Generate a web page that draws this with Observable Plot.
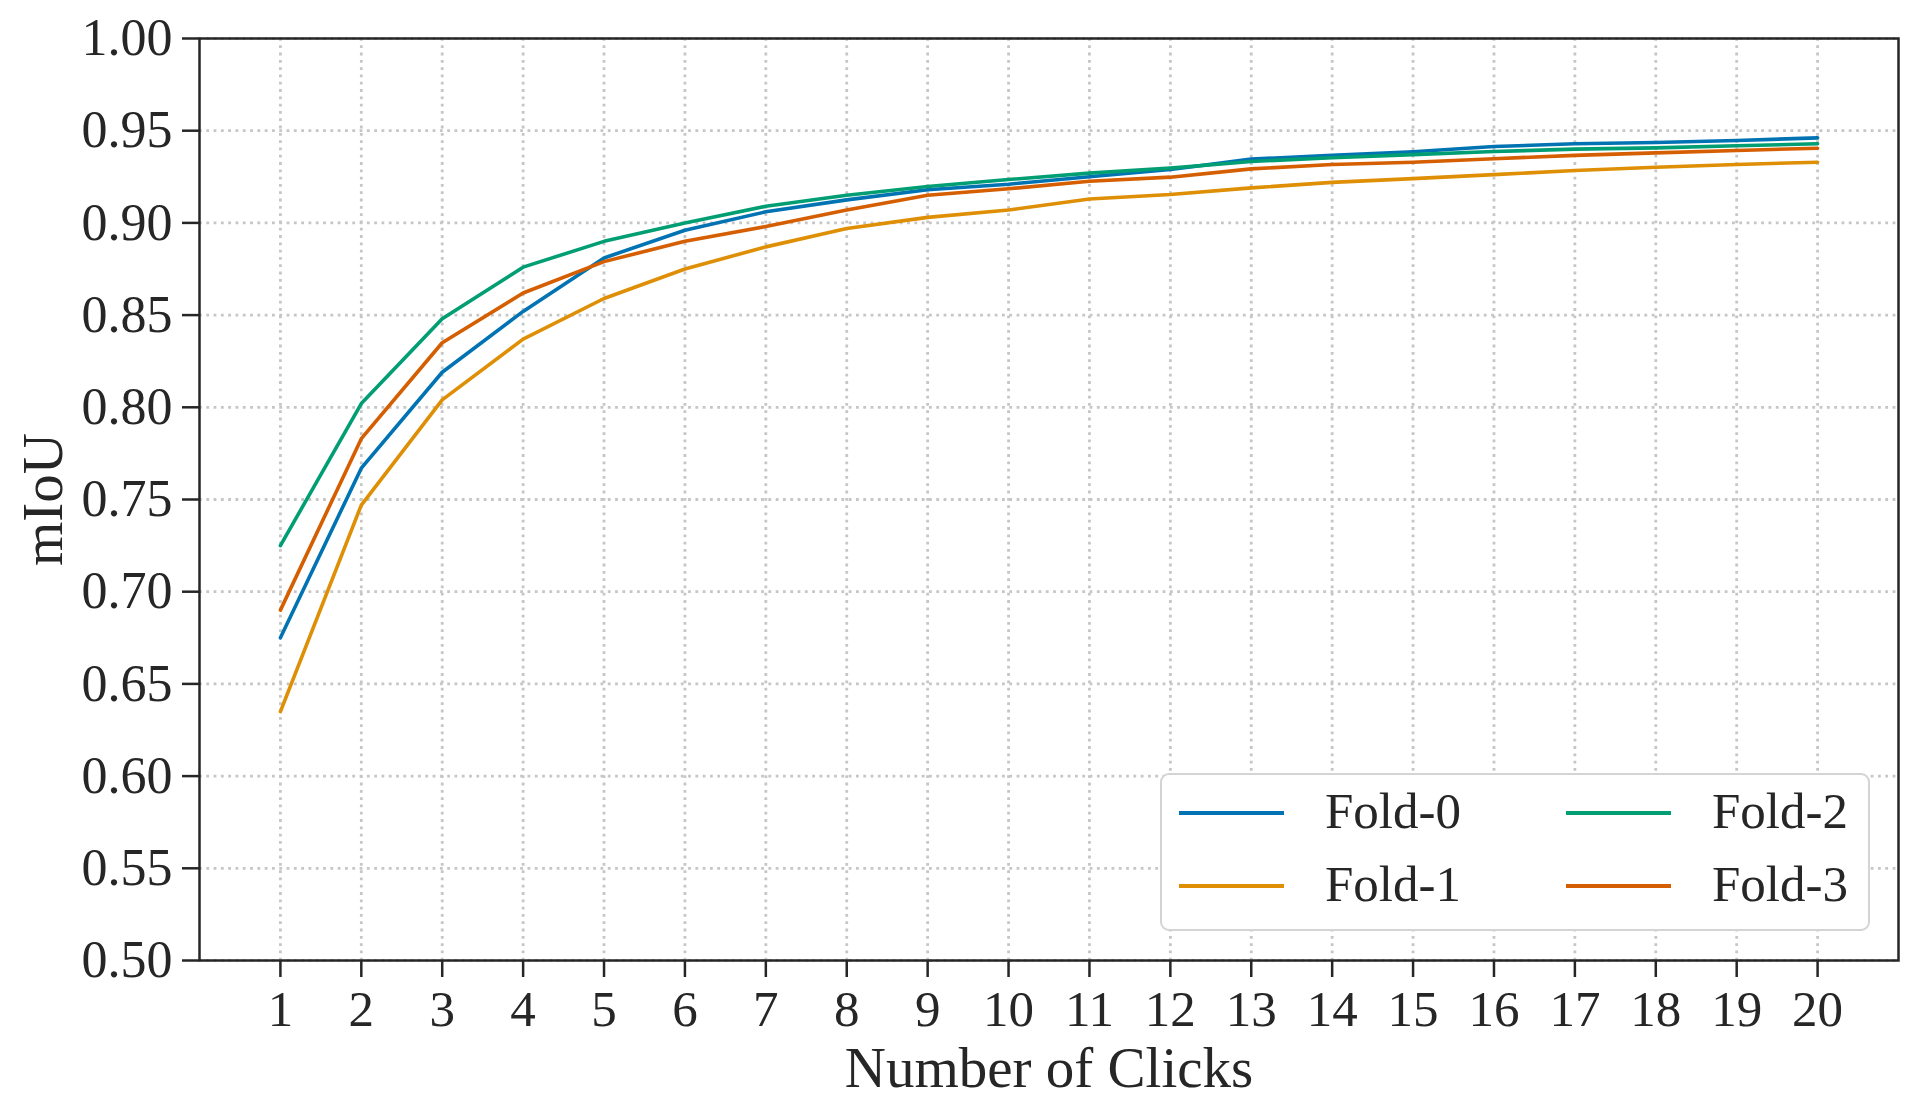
<!DOCTYPE html>
<html>
<head>
<meta charset="utf-8">
<script src="https://cdn.jsdelivr.net/npm/d3@7"></script>
<script src="https://cdn.jsdelivr.net/npm/@observablehq/plot@0.6"></script>
<style>
  body { margin: 0; background: #fff; }
  #wrap { position: relative; width: 1918px; height: 1116px; }
  #legend { position: absolute; left: 1160px; top: 773px; width: 710px; height: 158px;
    border: 2px solid #d4d4d4; border-radius: 9px; background: #fff; box-sizing: border-box;
    font-family: "Liberation Serif", "Times New Roman", serif; font-size: 51px; color: #262626; }
  .sw { position: absolute; height: 3.5px; width: 105px; }
  .lab { position: absolute; line-height: 1; white-space: nowrap; }
</style>
</head>
<body>
<div id="wrap"><div id="legend"></div></div>
<script>
const clicks = [1, 2, 3, 4, 5, 6, 7, 8, 9, 10, 11, 12, 13, 14, 15, 16, 17, 18, 19, 20];
const folds = ["Fold-0", "Fold-1", "Fold-2", "Fold-3"];
const colors = ["#0173B2", "#DE8F05", "#029E73", "#D55E00"];
const fold0 = [0.675, 0.767, 0.819, 0.852, 0.881, 0.896, 0.906, 0.9125, 0.918, 0.921, 0.925, 0.929, 0.9346, 0.9366, 0.9386, 0.9414, 0.9429, 0.9436, 0.9447, 0.9461];
const fold1 = [0.635, 0.747, 0.804, 0.837, 0.859, 0.875, 0.887, 0.897, 0.903, 0.907, 0.913, 0.9154, 0.919, 0.922, 0.924, 0.9262, 0.9284, 0.9302, 0.9317, 0.9329];
const fold2 = [0.725, 0.802, 0.848, 0.876, 0.890, 0.900, 0.909, 0.915, 0.9197, 0.9235, 0.927, 0.9297, 0.9333, 0.9353, 0.937, 0.9387, 0.940, 0.9407, 0.9418, 0.9429];
const fold3 = [0.690, 0.783, 0.835, 0.862, 0.879, 0.890, 0.898, 0.907, 0.915, 0.9185, 0.9226, 0.9248, 0.9293, 0.9317, 0.9329, 0.9348, 0.9366, 0.938, 0.9393, 0.9405];
const yTicks = [0.50, 0.55, 0.60, 0.65, 0.70, 0.75, 0.80, 0.85, 0.90, 0.95, 1.00];
const xLabel = "Number of Clicks";
const yLabel = "mIoU";

const series = [fold0, fold1, fold2, fold3];
const data = [];
series.forEach((vals, i) => vals.forEach((v, j) => data.push({fold: folds[i], click: clicks[j], miou: v})));

const font = '"Liberation Serif", "Times New Roman", serif';
const ink = "#262626";
const gridStyle = {stroke: "#c6c6c6", strokeOpacity: 1, strokeWidth: 2.8, strokeDasharray: "2.8,4.5"};

const chart = Plot.plot({
  width: 1918,
  height: 1116,
  marginLeft: 199,
  marginRight: 20,
  marginTop: 38,
  marginBottom: 156,
  style: {fontFamily: font, color: ink, background: "#fff", overflow: "visible"},
  x: {domain: [0, 21]},
  y: {domain: [0.5, 1.0]},
  color: {domain: folds, range: colors},
  marks: [
    Plot.gridX(clicks, gridStyle),
    Plot.gridY(yTicks, gridStyle),
    Plot.line(data, {x: "click", y: "miou", z: "fold", stroke: "fold", strokeWidth: 3.6, strokeLinejoin: "round"}),
    Plot.axisX(clicks, {tickSize: 17, tickPadding: 12, strokeWidth: 2.5, fontSize: 51, label: null, tickFormat: d => String(d)}),
    Plot.axisY(yTicks, {tickSize: 17, tickPadding: 10, strokeWidth: 2.5, fontSize: 52, label: null, tickFormat: d3.format(".2f")}),
    Plot.frame({stroke: ink, strokeWidth: 2.5}),
    Plot.text([xLabel], {frameAnchor: "bottom", dy: 108, textAnchor: "middle", lineAnchor: "middle", fontSize: 57, fill: ink, text: d => d}),
    Plot.text([yLabel], {frameAnchor: "left", dx: -156, rotate: -90, textAnchor: "middle", lineAnchor: "middle", fontSize: 57, fill: ink, text: d => d})
  ]
});
document.getElementById("wrap").prepend(chart);

// legend
const legend = document.getElementById("legend");
const pos = [[17, 38], [17, 111], [404, 38], [404, 111]];
folds.forEach((f, i) => {
  const [lx, ly] = pos[i];
  const sw = document.createElement("div");
  sw.className = "sw";
  sw.style.left = lx + "px";
  sw.style.top = (ly - 1.75) + "px";
  sw.style.background = colors[i];
  legend.appendChild(sw);
  const t = document.createElement("div");
  t.className = "lab";
  t.textContent = f;
  t.style.left = (lx + 146) + "px";
  t.style.top = (ly - 27) + "px";
  legend.appendChild(t);
});
</script>
</body>
</html>
